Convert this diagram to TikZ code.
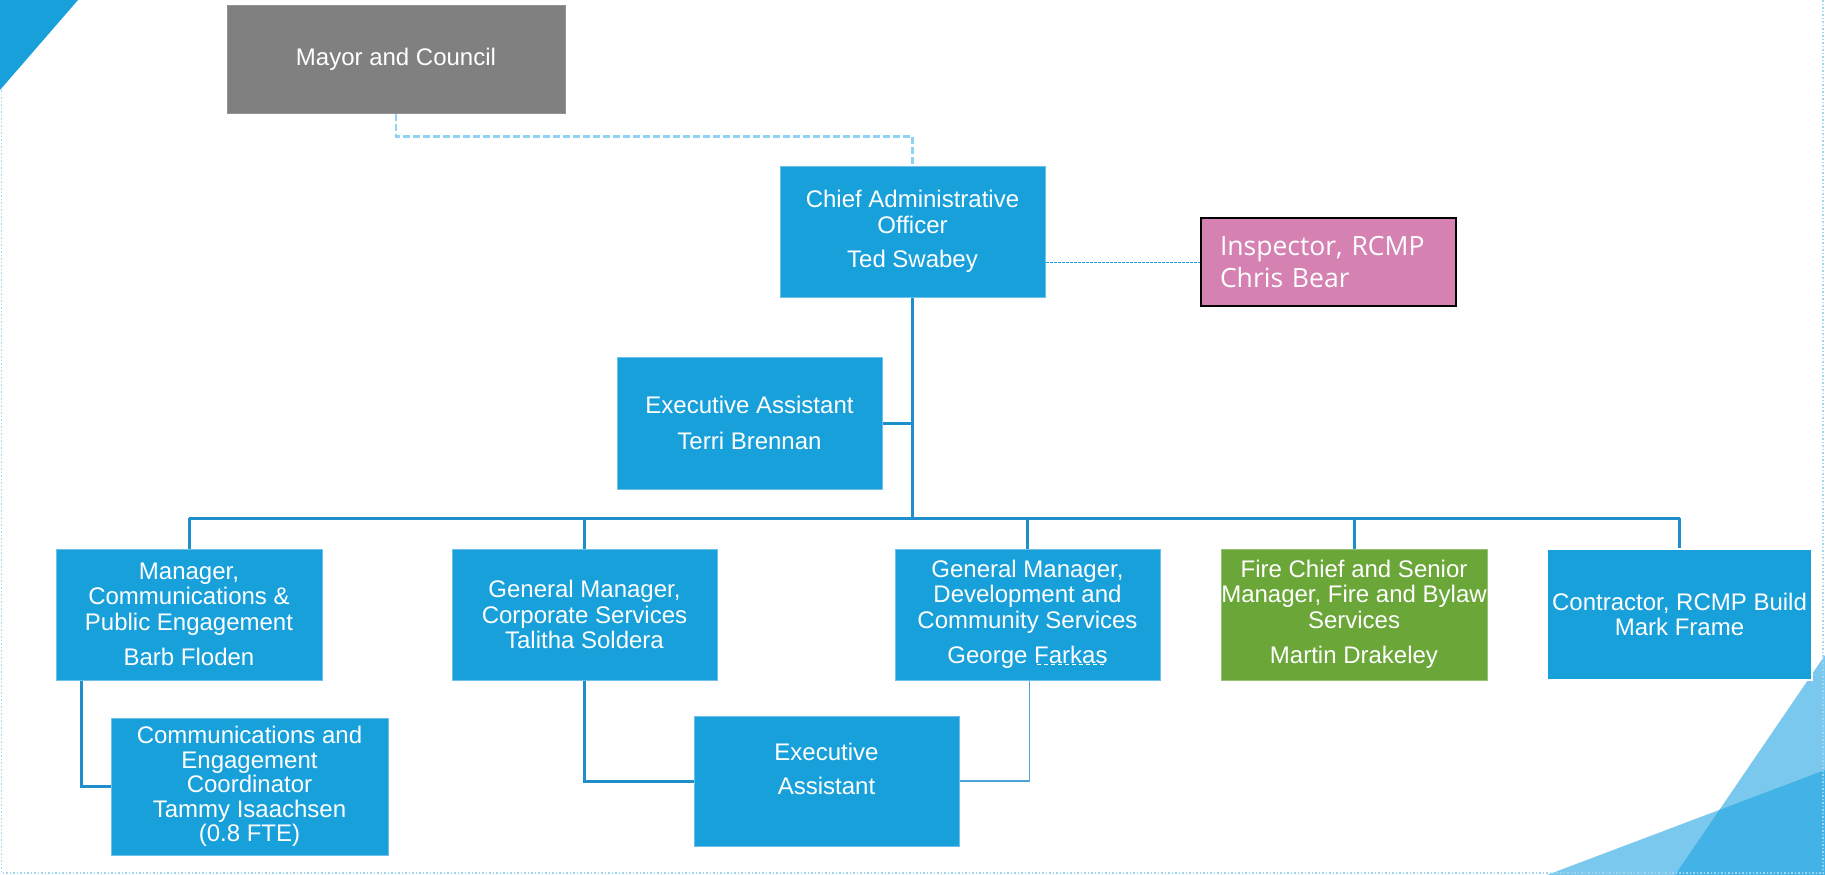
\documentclass[tikz,border=0pt]{standalone}
\usepackage{fontspec}
\setmainfont{Liberation Sans}
\newfontfamily\inspfont{Open Sans}
\definecolor{boxblue}{RGB}{24,160,219}
\definecolor{boxedge}{RGB}{110,192,234}
\definecolor{boxgrey}{RGB}{128,128,128}
\definecolor{boxgreen}{RGB}{107,166,57}
\definecolor{boxpink}{RGB}{213,130,179}
\definecolor{linkblue}{RGB}{30,143,203}
\definecolor{dashblue}{RGB}{142,211,242}
\definecolor{accent}{RGB}{27,161,226}
\definecolor{frameblue}{RGB}{160,215,240}
\begin{document}
\begin{tikzpicture}[x=1pt,y=-1pt,
  box/.style={draw=boxedge, line width=1pt, fill=boxblue, text=white,
    minimum width=266pt, minimum height=131pt, inner sep=0pt, align=center,
    font=\fontsize{24}{25.5}\selectfont},
  boxtext/.style={text=white, inner sep=0pt, align=center,
    font=\fontsize{24}{25.5}\selectfont},
  link/.style={draw=linkblue, line width=3pt},
  thinlink/.style={draw=linkblue!80!white, line width=1.6pt},
]
\useasboundingbox (0,0) rectangle (1825,875);

% corner decorations
\fill[boxblue] (0,0) -- (78,0) -- (0,90) -- cycle;
\fill[accent, opacity=0.58] (1675,875) -- (1825,655) -- (1825,875) -- cycle;
\fill[accent, opacity=0.58] (1547,875) -- (1825,770) -- (1825,875) -- cycle;

% dotted page frame
\draw[frameblue, line width=1.5pt, dotted] (1.5,90) -- (1.5,873) -- (1823,873) -- (1823,0);

% boxes
\node[box, fill=boxgrey, draw=boxgrey!85!white, minimum width=338pt, minimum height=107pt]
  (mayor) at (396,59.5) {Mayor and Council};
\node[box, minimum width=265pt] (cao) at (912.5,231.5)
  {Chief Administrative\\Officer\\[9pt]Ted Swabey};
\node[draw=black, line width=2pt, fill=boxpink, text=white, inner ysep=0pt,
  inner xsep=19pt, text width=217pt, minimum height=88pt, align=left,
  font=\inspfont\fontsize{26.5}{32}\selectfont]
  (insp) at (1328.5,262) {Inspector, RCMP\\Chris Bear};
\node[box, minimum width=265pt, minimum height=132pt] (terri) at (749.5,423)
  {Executive Assistant\\[10pt]Terri Brennan};

\node[box] (barb) at (189,614.5)
  {Manager,\\Communications \&\\Public Engagement\\[10pt]Barb Floden};
\node[box, minimum width=265pt] (talitha) at (584.5,614.5)
  {General Manager,\\Corporate Services\\Talitha Soldera};
\node[box, minimum width=265pt] (george) at (1027.5,614.5)
  {General Manager,\\Development and\\Community Services\\[10pt]George Farkas};
\node[box, fill=boxgreen, draw=boxgreen!70!white] (martin) at (1354,614.5)
  {Fire Chief and Senior\\Manager, Fire and Bylaw\\Services\\[10pt]Martin Drakeley};
\node[box, minimum width=265pt, draw=white, line width=1.5pt] (mark) at (1679.5,614.5)
  {Contractor, RCMP Build\\Mark Frame};

\node[box, minimum width=277pt, minimum height=137pt,
  font=\fontsize{24}{24.6}\selectfont] (coord) at (249.5,786.5)
  {Communications and\\Engagement\\Coordinator\\Tammy Isaachsen\\(0.8 FTE)};
\node[box, minimum width=265pt, minimum height=130pt] (ea) at (826.5,781) {};
\node[boxtext, font=\fontsize{24}{34}\selectfont] (eatext) at ([yshift=12pt]ea.center)
  {Executive\\Assistant};

% proofing marks under the surname
\draw[white, line width=1pt, dash pattern=on 4pt off 3pt] (1037,664) -- (1107,664);

% reporting lines
\coordinate (bus) at (912.5,518);
\draw[dashblue, line width=2.5pt, dash pattern=on 7pt off 3pt]
  (mayor.south) -- ++(0,23) -| (cao.north);
\draw[accent, line width=1pt, dash pattern=on 3pt off 1pt]
  (cao.east |- insp.west) -- (insp.west);
\draw[link] (cao.south) -- (bus);
\draw[link] (terri.east) -- (terri.east -| bus);
\draw[link] (barb.north |- bus) -- (mark.north |- bus);
\foreach \n in {barb,talitha,george,martin,mark}
  \draw[link] (\n.north |- bus) -- (\n.north);
\draw[link] ([xshift=-108pt]barb.south) |- (coord.west);
\draw[link] (talitha.south) |- (ea.west);
\draw[thinlink] ([xshift=2pt]george.south) |- (ea.east);
\end{tikzpicture}
\end{document}
